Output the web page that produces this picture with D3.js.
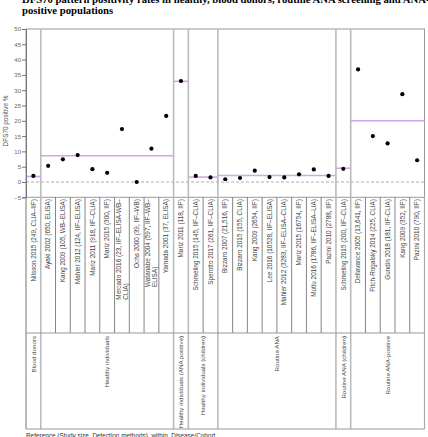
<!DOCTYPE html>
<html>
<head>
<meta charset="utf-8">
<script src="https://cdn.jsdelivr.net/npm/d3@7"></script>
<style>
  body { margin: 0; background: #fff; }
  svg { display: block; font-family: "Liberation Sans", Arial, sans-serif; }
</style>
</head>
<body>
<div id="chart"></div>
<script>
// data
var studies = [
  ["Nilsson 2015 (249, CLIA–IIF)"],
  ["Ayaki 2002 (650, ELISA)"],
  ["Kang 2009 (105, WB–ELISA)"],
  ["Mahler 2012 (124, IIF–ELISA)"],
  ["Mariz 2011 (918, IIF–CLIA)"],
  ["Mariz 2015 (300, IIF)"],
  ["Mercado 2016 (23, IIF–ELISA-WB–", "CLIA)"],
  ["Ochs 2000 (39, IIF–WB)"],
  ["Watanabe 2004 (597, IIF–WB–", "ELISA)"],
  ["Yamada 2001 (37, ELISA)"],
  ["Mariz 2011 (118, IIF)"],
  ["Schmeling 2015 (145, IIF–CLIA)"],
  ["Sperotto 2017 (261, IIF–CLIA)"],
  ["Bizzaro 2007 (21,516, IIF)"],
  ["Bizzaro 2015 (155, CLIA)"],
  ["Kang 2009 (2654, IIF)"],
  ["Lee 2016 (10528, IIF–ELISA)"],
  ["Mahler 2012 (3283, IIF–ELISA–CLIA)"],
  ["Mariz 2015 (16754, IIF)"],
  ["Mutlu 2016 (1786, IIF–ELISA–LIA)"],
  ["Pazini 2010 (2788, IIF)"],
  ["Schmeling 2015 (200, IIF–CLIA)"],
  ["Dellavance 2005 (13,641, IIF)"],
  ["Fitch-Rogalsky 2014 (225, CLIA)"],
  ["Gundin 2018 (181, IIF-CLIA)"],
  ["Kang 2009 (352, IIF)"],
  ["Pazini 2010 (790, IIF)"]
];
var positive = [2.0, 5.3, 7.4, 8.8, 4.2, 3.0, 17.3, 0.0, 10.9, 21.6,
                 33.0, 2.0, 1.5,
                 0.9, 1.3, 3.7, 1.6, 1.5, 2.5, 4.1, 2.0,
                 4.3,
                 36.8, 15.0, 12.6, 28.7, 7.1];
var groups = ["Blood donors", "Healthy individuals", "Healthy individuals (ANA positive)",
              "Healthy individuals (children)", "Routine ANA", "Routine ANA (children)",
              "Routine ANA-positive"];
var groupSize = [1, 9, 1, 2, 8, 1, 5];
var groupMean = [1.8, 8.6, 32.9, 1.6, 2.1, 4.5, 20.0];
var yTicks = [-5, 0, 5, 10, 15, 20, 25, 30, 35, 40, 45, 50];

var width = 428, height = 437;
var pLeft = 26, pRight = 424.5, pTop = 29, pBottom = 197.3;
var labBottom = 333, grpBottom = 429;

var svg = d3.select("#chart").append("svg")
  .attr("width", width).attr("height", height);

// title (first line clipped by the top edge)
svg.append("text")
  .attr("x", 22).attr("y", 2.7)
  .style("font-family", "'Liberation Serif', 'Times New Roman', serif")
  .style("font-weight", "bold").style("font-size", "10.7px")
  .text("DFS70 pattern positivity rates in healthy, blood donors, routine ANA screening and ANA-");
svg.append("text")
  .attr("x", 22).attr("y", 13.5)
  .style("font-family", "'Liberation Serif', 'Times New Roman', serif")
  .style("font-weight", "bold").style("font-size", "10.7px")
  .text("positive populations");

var xScale = d3.scaleBand()
  .domain(d3.range(studies.length))
  .range([pLeft, pRight]);
var yScale = d3.scaleLinear()
  .domain([-5, 50])
  .range([pBottom, pTop]);
var bw = xScale.bandwidth();

// group start indices
var starts = [];
var acc = 0;
groupSize.forEach(function (n) { starts.push(acc); acc += n; });

function gx0(i) { return xScale(starts[i]); }
function gx1(i) { return xScale(starts[i]) + groupSize[i] * bw; }

// plot frame
svg.append("rect")
  .attr("x", pLeft).attr("y", pTop)
  .attr("width", pRight - pLeft).attr("height", pBottom - pTop)
  .attr("fill", "none").attr("stroke", "#999").attr("stroke-width", 1);

// zero line
svg.append("line")
  .attr("x1", pLeft).attr("x2", pRight)
  .attr("y1", yScale(0)).attr("y2", yScale(0))
  .attr("stroke", "#999").attr("stroke-dasharray", "3,2").attr("stroke-width", 0.8);

// column dividers in label area
var groupEdges = starts.slice(1);
svg.append("g").selectAll("line")
  .data(d3.range(1, studies.length).filter(function (i) { return groupEdges.indexOf(i) < 0; }))
  .enter().append("line")
  .attr("x1", function (i) { return xScale(i); })
  .attr("x2", function (i) { return xScale(i); })
  .attr("y1", pBottom).attr("y2", labBottom)
  .attr("stroke", "#666").attr("stroke-width", 0.8);

// group separators
svg.append("g").selectAll("line")
  .data(groupEdges)
  .enter().append("line")
  .attr("x1", function (i) { return xScale(i); })
  .attr("x2", function (i) { return xScale(i); })
  .attr("y1", pTop).attr("y2", grpBottom)
  .attr("stroke", "#bbb").attr("stroke-width", 1.6);

// label area frame
svg.append("line")
  .attr("x1", pLeft).attr("x2", pLeft).attr("y1", pBottom).attr("y2", grpBottom)
  .attr("stroke", "#777").attr("stroke-width", 1);
svg.append("line")
  .attr("x1", pRight).attr("x2", pRight).attr("y1", pBottom).attr("y2", grpBottom)
  .attr("stroke", "#aaa").attr("stroke-width", 1.2);
svg.append("line")
  .attr("x1", pLeft).attr("x2", pRight).attr("y1", labBottom).attr("y2", labBottom)
  .attr("stroke", "#999").attr("stroke-width", 1);
svg.append("line")
  .attr("x1", pLeft).attr("x2", pRight).attr("y1", grpBottom).attr("y2", grpBottom)
  .attr("stroke", "#999").attr("stroke-width", 1);

// group means
svg.append("g").selectAll("line")
  .data(groupMean)
  .enter().append("line")
  .attr("x1", function (d, i) { return gx0(i); })
  .attr("x2", function (d, i) { return gx1(i); })
  .attr("y1", function (d) { return yScale(d); })
  .attr("y2", function (d) { return yScale(d); })
  .attr("stroke", "#d2a6ea").attr("stroke-width", 1.6);

// points
svg.append("g").selectAll("circle")
  .data(positive)
  .enter().append("circle")
  .attr("cx", function (d, i) { return xScale(i) + bw / 2; })
  .attr("cy", function (d) { return yScale(d); })
  .attr("r", 2.1)
  .attr("fill", "#000");

// y axis
var yAxis = svg.append("g")
  .attr("transform", "translate(" + pLeft + ",0)")
  .call(d3.axisLeft(yScale).tickValues(yTicks).tickSize(4).tickPadding(1));
yAxis.select(".domain").attr("stroke", "#777");
yAxis.selectAll(".tick line").attr("stroke", "#777");
yAxis.selectAll(".tick text").attr("fill", "#666").style("font-size", "6px");

svg.append("text")
  .attr("transform", "translate(7.5,121) rotate(-90)")
  .attr("text-anchor", "middle")
  .attr("fill", "#555").style("font-size", "6.4px")
  .text("DFS70 positive %");

// study labels
var lab = svg.append("g").selectAll("text")
  .data(studies)
  .enter().append("text")
  .attr("text-anchor", "end")
  .attr("fill", "#444").style("font-size", "6.4px")
  .attr("transform", function (d, i) {
    var cx = xScale(i) + bw / 2 + 2.2 - (d.length - 1) * 3.4;
    return "translate(" + cx + "," + (pBottom + 1.8) + ") rotate(-90)";
  });
lab.selectAll("tspan")
  .data(function (d) { return d; })
  .enter().append("tspan")
  .attr("x", 0)
  .attr("dy", function (d, j) { return j === 0 ? 0 : 7.2; })
  .text(function (d) { return d; });
lab.each(function (d) {
  if (d.length > 1) {
    var first = this.firstChild.getComputedTextLength();
    d3.select(this).attr("text-anchor", "start")
      .selectAll("tspan").attr("x", -first);
  }
});

// group labels
svg.append("g").selectAll("text")
  .data(groups)
  .enter().append("text")
  .attr("text-anchor", "end")
  .attr("fill", "#444").style("font-size", "6.2px")
  .attr("transform", function (d, i) {
    return "translate(" + ((gx0(i) + gx1(i)) / 2 + 2.2) + "," + (labBottom + 3) + ") rotate(-90)";
  })
  .text(function (d) { return d; });

// x title
svg.append("text")
  .attr("x", pLeft).attr("y", 437.5)
  .attr("fill", "#333").style("font-size", "6.4px")
  .attr("xml:space", "preserve")
  .text("Reference (Study size, Detection methods)  within  Disease/Cohort");
</script>
</body>
</html>
